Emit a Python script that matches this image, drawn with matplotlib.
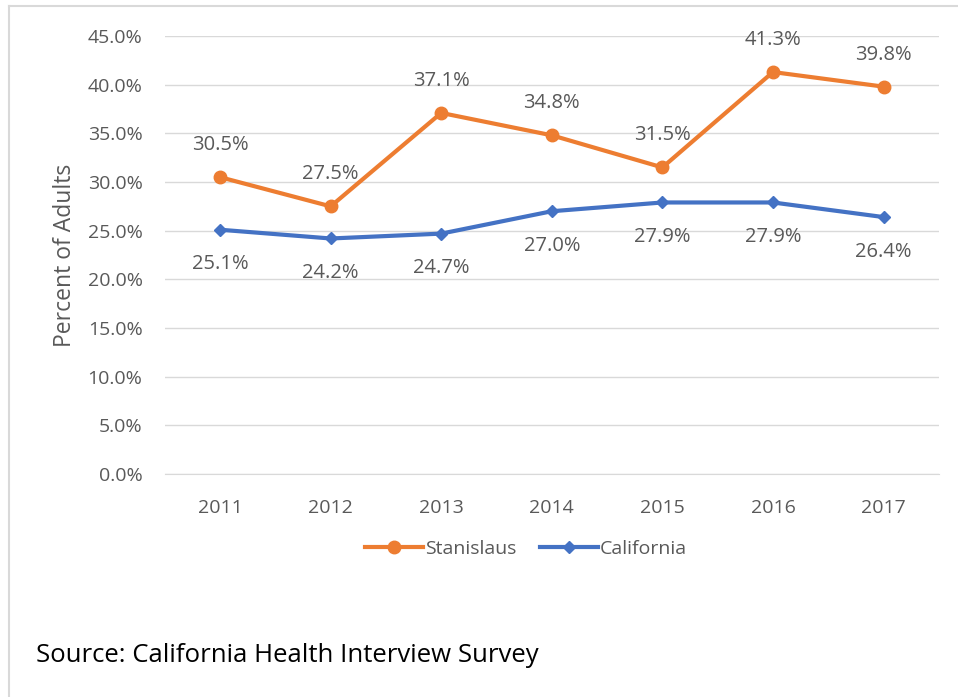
import matplotlib.pyplot as plt
from matplotlib.lines import Line2D

years = ['2011', '2012', '2013', '2014', '2015', '2016', '2017']
stanislaus = [30.5, 27.5, 37.1, 34.8, 31.5, 41.3, 39.8]
california = [25.1, 24.2, 24.7, 27.0, 27.9, 27.9, 26.4]
yticks = [0, 5, 10, 15, 20, 25, 30, 35, 40, 45]

plt.rcParams['font.family'] = ['Open Sans', 'DejaVu Sans']
gray = '#595959'
orange = '#ED7D31'
blue = '#4472C4'

fig = plt.figure(figsize=(9.58, 6.97), dpi=100)
ax = fig.add_axes([0.172, 0.3199, 0.808, 0.6284])

x = list(range(len(years)))
ax.plot(x, stanislaus, color=orange, lw=3, marker='o', ms=9, label='Stanislaus', zorder=3)
ax.plot(x, california, color=blue, lw=3, marker='D', ms=6.5, label='California', zorder=3)

for i, v in enumerate(stanislaus):
    ax.annotate(f'{v:.1f}%', (i, v), xytext=(0, 23), textcoords='offset points',
                ha='center', va='center', fontsize=14.5, color=gray)
for i, v in enumerate(california):
    ax.annotate(f'{v:.1f}%', (i, v), xytext=(0, -25), textcoords='offset points',
                ha='center', va='center', fontsize=14.5, color=gray)

ax.set_xlim(-0.5, len(years) - 0.5)
ax.set_ylim(0, 45)
ax.set_yticks(yticks)
ax.set_yticklabels([f'{t:.1f}%' for t in yticks])
ax.set_xticks(x)
ax.set_xticklabels(years)
ax.tick_params(axis='both', length=0, labelsize=14, colors=gray)
ax.tick_params(axis='y', pad=16)
ax.tick_params(axis='x', pad=18)
ax.grid(axis='y', color='#D9D9D9', lw=1)
ax.set_axisbelow(True)
for s in ['top', 'right', 'left']:
    ax.spines[s].set_visible(False)
ax.spines['bottom'].set_color('#D9D9D9')
ax.set_ylabel('Percent of Adults', fontsize=16.5, color=gray)
ax.yaxis.set_label_coords(-0.113, 0.5)

handles = [Line2D([], [], color=orange, lw=3, marker='o', ms=9),
           Line2D([], [], color=blue, lw=3, marker='D', ms=6.5)]
fig.legend(handles, ['Stanislaus', 'California'], loc='center', bbox_to_anchor=(0.549, 0.212),
           ncol=2, frameon=False, fontsize=14, labelcolor=gray, handlelength=3,
           handletextpad=0.1, columnspacing=1.2)

fig.text(0.038, 0.06, 'Source: California Health Interview Survey', fontsize=18.5,
         color='black', ha='left', va='center')

# outer frame (left and top edges only)
fig.add_artist(Line2D([0.0095, 0.0095], [0, 0.9914], color='#D9D9D9', lw=1.5,
                      transform=fig.transFigure))
fig.add_artist(Line2D([0.0095, 1], [0.9914, 0.9914], color='#D9D9D9', lw=1.5,
                      transform=fig.transFigure))

fig.savefig('out.png', dpi=100)
